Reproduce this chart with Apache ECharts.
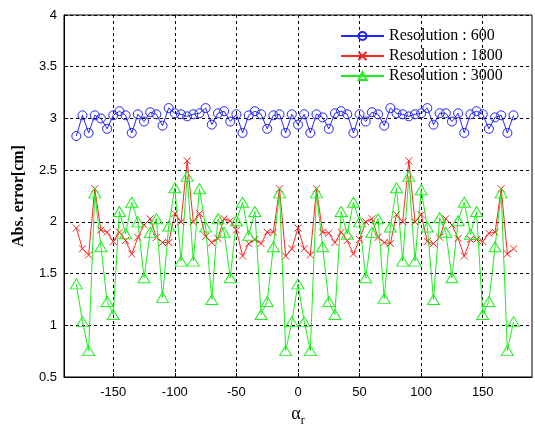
<!DOCTYPE html>
<html>
<head>
<meta charset="utf-8">
<script src="https://cdn.jsdelivr.net/npm/echarts@6/dist/echarts.min.js"></script>
<style>html,body{margin:0;padding:0;background:#fff;}#c{width:535px;height:427px;}</style>
</head>
<body>
<div id="c"></div>
<script>
const angles = [-180,-175,-170,-165,-160,-155,-150,-145,-140,-135,-130,-125,-120,-115,-110,-105,-100,-95,-90,-85,-80,-75,-70,-65,-60,-55,-50,-45,-40,-35,-30,-25,-20,-15,-10,-5,
0,5,10,15,20,25,30,35,40,45,50,55,60,65,70,75,80,85,90,95,100,105,110,115,120,125,130,135,140,145,150,155,160,165,170,175];

const res600 = [2.83,3.03,2.86,3.03,3.00,2.90,3.03,3.07,3.03,2.86,3.04,2.97,3.06,3.04,2.93,3.10,3.05,3.04,3.02,3.04,3.05,3.10,2.94,3.05,3.07,2.97,3.04,2.86,3.03,3.07,3.04,2.90,3.03,3.04,2.86,3.04,
2.94,3.04,2.86,3.04,3.01,2.90,3.05,3.07,3.04,2.86,3.04,2.97,3.06,3.04,2.93,3.10,3.05,3.04,3.02,3.04,3.05,3.10,2.94,3.05,3.05,2.97,3.05,2.86,3.04,3.07,3.04,2.90,3.01,3.03,2.86,3.03];

const res1800 = [1.94,1.74,1.68,2.32,1.92,1.90,1.81,1.90,1.82,1.69,1.85,1.97,2.03,1.85,1.80,1.80,2.08,2.00,2.59,2.00,2.08,1.86,1.80,1.84,2.03,2.01,1.92,1.67,1.79,1.83,1.79,1.90,1.90,2.32,1.67,1.74,
1.94,1.74,1.68,2.32,1.90,1.89,1.80,1.90,1.82,1.69,1.83,2.00,2.03,1.85,1.80,1.79,2.07,2.00,2.59,2.00,2.07,1.81,1.79,1.85,2.03,1.97,1.84,1.67,1.83,1.83,1.81,1.89,1.90,2.32,1.69,1.74];

const res3000 = [1.40,1.035,0.755,2.28,1.76,1.23,1.105,2.10,1.885,2.19,2.00,1.46,1.90,2.03,1.27,1.96,2.33,1.62,2.44,1.62,2.32,1.95,1.25,2.03,1.90,1.46,2.01,2.19,1.87,2.10,1.105,1.23,1.76,2.28,0.755,1.035,
1.40,1.035,0.755,2.28,1.76,1.23,1.105,2.10,1.88,2.19,2.00,1.46,1.90,2.03,1.26,1.95,2.33,1.62,2.44,1.62,2.31,1.95,1.25,2.04,1.90,1.46,2.01,2.19,1.88,2.10,1.105,1.23,1.76,2.28,0.755,1.035];

const seriesNames = ['Resolution : 600', 'Resolution : 1800', 'Resolution : 3000'];
const xTickLabels = [-150,-100,-50,0,50,100,150];

function pairs(vals){ return angles.map((a,i)=>[a, vals[i]]); }

const chart = echarts.init(document.getElementById('c'), null, {renderer:'canvas'});
const serif = '"Liberation Serif", "DejaVu Serif", serif';
const sans = '"Liberation Sans", Arial, sans-serif';
const gridLine = {color: '#000', width: 1, type: [3,3]};

chart.setOption({
  animation: false,
  backgroundColor: '#fff',
  grid: {left: 64, right: 3, top: 15, bottom: 50, outerBoundsMode: 'none', containLabel: false,
         show: true, borderColor: '#000', borderWidth: 1, backgroundColor: 'transparent'},
  legend: {
    orient: 'vertical', left: 340, top: 28, padding: 0, itemWidth: 43, itemHeight: 10, itemGap: 4,
    textStyle: {fontFamily: serif, fontSize: 16, color: '#000', lineHeight: 16},
    data: seriesNames
  },
  xAxis: {
    type: 'value', min: -190, max: 190,
    name: '{a|α}{s|r}', nameLocation: 'middle', nameGap: 24,
    nameTextStyle: {rich: {a: {fontFamily: serif, fontSize: 18, color: '#000'}, s: {fontFamily: serif, fontSize: 12, color: '#000', padding: [14,0,0,0]}}},
    axisLine: {show: true, onZero: false, lineStyle: {color: '#000', width: 1}},
    axisTick: {show: true, inside: true, length: 4, customValues: xTickLabels, lineStyle: {color: '#000'}},
    axisLabel: {fontFamily: sans, fontSize: 13, color: '#000', margin: 9, customValues: xTickLabels},
    splitLine: {show: true, lineStyle: gridLine}
  },
  yAxis: {
    type: 'value', min: 0.5, max: 4, interval: 0.5,
    name: 'Abs. error[cm]', nameLocation: 'middle', nameGap: 37,
    nameTextStyle: {fontFamily: serif, fontSize: 16, fontWeight: 'bold', color: '#000'},
    axisLine: {show: true, onZero: false, lineStyle: {color: '#000', width: 1}},
    axisTick: {show: true, inside: true, length: 4, lineStyle: {color: '#000'}},
    axisLabel: {fontFamily: sans, fontSize: 13, color: '#000', margin: 7},
    splitLine: {show: true, lineStyle: gridLine}
  },
  series: [
    {
      name: seriesNames[0], type: 'line', data: pairs(res600), showAllSymbol: true,
      symbol: 'circle', symbolSize: 9,
      lineStyle: {color: '#0000ff', width: 1, opacity: 0.85},
      itemStyle: {color: 'none', borderColor: '#2222ff', borderWidth: 1}
    },
    {
      name: seriesNames[1], type: 'line', data: pairs(res1800), showAllSymbol: true,
      symbol: 'path://M0,0L10,10M10,0L0,10', symbolSize: 7,
      lineStyle: {color: '#ff0000', width: 1, opacity: 0.85},
      itemStyle: {color: 'none', borderColor: '#ff2222', borderWidth: 1}
    },
    {
      name: seriesNames[2], type: 'line', data: pairs(res3000), showAllSymbol: true,
      symbol: 'triangle', symbolSize: [12, 10],
      lineStyle: {color: '#00ee00', width: 1, opacity: 0.9},
      itemStyle: {color: 'none', borderColor: '#22ee22', borderWidth: 1}
    }
  ]
});
</script>
</body>
</html>
